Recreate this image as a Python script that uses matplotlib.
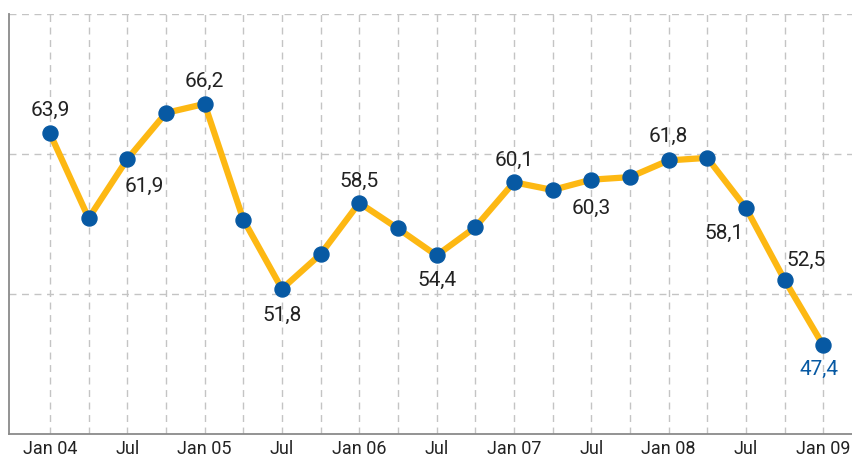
import numpy as np
import matplotlib
matplotlib.use("Agg")
import matplotlib.pyplot as plt

plt.rcParams['font.family'] = ['Roboto', 'DejaVu Sans']

# quarterly values, Jan 04 .. Jan 09
quarters = ["Jan 04", "Apr", "Jul", "Oct", "Jan 05", "Apr", "Jul", "Oct",
            "Jan 06", "Apr", "Jul", "Oct", "Jan 07", "Apr", "Jul", "Oct",
            "Jan 08", "Apr", "Jul", "Oct", "Jan 09"]
values = [63.9, 57.3, 61.9, 65.5, 66.2, 57.2, 51.8, 54.5,
          58.5, 56.5, 54.4, 56.6, 60.1, 59.5, 60.3, 60.5,
          61.8, 62.0, 58.1, 52.5, 47.4]

# which points get a value label, and where (dx, dy in pixels)
label_idx = [0, 2, 4, 6, 8, 10, 12, 14, 16, 18, 19, 20]
label_off = [(0, 23), (17, -27), (0, 23), (0, -27), (0, 21), (0, -25),
             (0, 22), (0, -29), (0, 24), (-22, -25), (22, 19), (-4, -24)]

yellow = "#FDB813"
blue = "#0759A3"
text_col = "#222222"

fig = plt.figure(figsize=(8.53, 4.57), dpi=100)
ax = fig.add_axes([9/853, 23/457, 844/853, 420/457])

x = np.arange(len(values))
ax.plot(x, values, color=yellow, lw=4.5, zorder=3)
ax.plot(x, values, 'o', color=blue, ms=10.8, zorder=4)

for i, (dx, dy) in zip(label_idx, label_off):
    col = blue if i == len(values) - 1 else text_col
    ax.annotate(f"{values[i]:.1f}".replace(".", ","), (x[i], values[i]),
                xytext=(dx * 0.72, dy * 0.72), textcoords='offset points',
                ha='center', va='center', fontsize=15, color=col, zorder=5)

ax.set_xlim(-1.06, 20.77)
ax.set_ylim(40.5, 73.2)

ax.set_xticks(x)
ax.set_xticklabels([q if q[:3] in ("Jan", "Jul") else "" for q in quarters],
                   fontsize=13, color=text_col)
ax.set_yticks([51.4, 62.3, 73.2])
ax.set_yticklabels([])
ax.tick_params(length=0, pad=4.5)

ax.grid(True, color="#c4c4c4", lw=1, linestyle=(0, (5, 4)))
ax.set_axisbelow(True)

for s in ["top", "right"]:
    ax.spines[s].set_visible(False)
for s in ["left", "bottom"]:
    ax.spines[s].set_color("#8a8a8a")
    ax.spines[s].set_linewidth(1.3)

fig.savefig("out.png", dpi=100)
